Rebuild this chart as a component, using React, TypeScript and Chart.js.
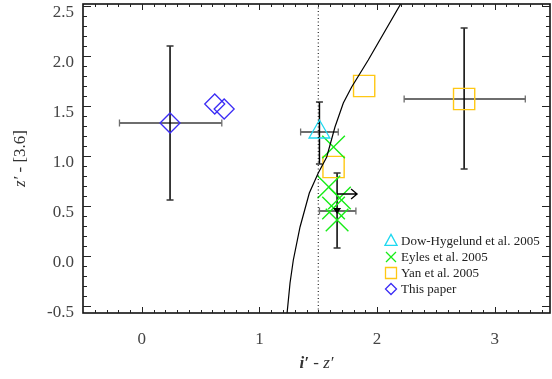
import React, { useEffect, useRef } from 'react';
import { Chart, registerables } from 'chart.js';
Chart.register(...registerables);

// ---- axis ranges & ticks ----
const X_MIN = -0.5;
const X_MAX = 3.47;
const Y_MIN = -0.57;
const Y_MAX = 2.52;
const xTickValues = [0, 1, 2, 3];
const xTickLabels = ['0', '1', '2', '3'];
const yTickValues = [-0.5, 0, 0.5, 1, 1.5, 2, 2.5];
const yTickLabels = ['-0.5', '0.0', '0.5', '1.0', '1.5', '2.0', '2.5'];

// ---- series ----
const seriesNames = ['Dow-Hygelund et al. 2005', 'Eyles et al. 2005', 'Yan et al. 2005', 'This paper'];
const seriesColors = ['#1fd8f0', '#18ec18', '#ffc814', '#3b2cf5'];

const dowX = [1.51];
const dowY = [1.24];
const eylesX = [1.63, 1.59, 1.68, 1.63, 1.66];
const eylesY = [1.09, 0.69, 0.58, 0.48, 0.36];
const yanX = [1.89, 1.63, 2.74];
const yanY = [1.70, 0.89, 1.57];
const thisX = [0.24, 0.62, 0.70];
const thisY = [1.33, 1.52, 1.47];

// ---- error bars ----
const errX = [0.24, 2.74, 1.51, 1.66];
const errY = [1.33, 1.57, 1.24, 0.45];
const errXLo = [-0.19, 2.23, 1.35, 1.51];
const errXHi = [0.68, 3.26, 1.67, 1.82];
const errYLo = [0.56, 0.87, 0.92, 0.08];
const errYHi = [2.10, 2.28, 1.54, 0.83];

// ---- limit arrows ----
const upperLimitX = [1.66];
const upperLimitY = [0.45];
const rightArrowX0 = [1.66];
const rightArrowX1 = [1.83];
const rightArrowY = [0.62];

// ---- model track ----
const curveX = [1.235, 1.26, 1.288, 1.345, 1.424, 1.50, 1.572, 1.642, 1.713, 1.784, 1.925, 2.21];
const curveY = [-0.57, -0.27, -0.04, 0.29, 0.63, 0.83, 0.99, 1.29, 1.53, 1.69, 1.96, 2.54];
const dottedX = 1.5;

const SERIF = '"Liberation Serif", "DejaVu Serif", serif';

const pts = (xs: number[], ys: number[]) => xs.map((x, i) => ({ x, y: ys[i] }));

function drawSymbol(ctx: CanvasRenderingContext2D, kind: number, x: number, y: number, s: number) {
  ctx.beginPath();
  if (kind === 0) {
    ctx.moveTo(x, y - s * 0.6);
    ctx.lineTo(x + s * 0.55, y + s * 0.4);
    ctx.lineTo(x - s * 0.55, y + s * 0.4);
    ctx.closePath();
  } else if (kind === 1) {
    ctx.moveTo(x - s / 2, y - s / 2);
    ctx.lineTo(x + s / 2, y + s / 2);
    ctx.moveTo(x + s / 2, y - s / 2);
    ctx.lineTo(x - s / 2, y + s / 2);
  } else if (kind === 2) {
    ctx.rect(x - s / 2, y - s / 2, s, s);
  } else {
    ctx.moveTo(x, y - s / 2);
    ctx.lineTo(x + s / 2, y);
    ctx.lineTo(x, y + s / 2);
    ctx.lineTo(x - s / 2, y);
    ctx.closePath();
  }
  ctx.stroke();
}

const zeroPad = (s: any) => {
  s.paddingLeft = 0;
  s.paddingRight = 0;
  s.paddingTop = 0;
  s.paddingBottom = 0;
};

const framePlugin = {
  id: 'frame',
  beforeDatasetsDraw(chart: any) {
    const { ctx } = chart;
    const xs = chart.scales.x;
    const ys = chart.scales.y;
    ctx.save();
    for (let i = 0; i < errX.length; i++) {
      const px = xs.getPixelForValue(errX[i]);
      const py = ys.getPixelForValue(errY[i]);
      const x0 = xs.getPixelForValue(errXLo[i]);
      const x1 = xs.getPixelForValue(errXHi[i]);
      const y0 = ys.getPixelForValue(errYLo[i]);
      const y1 = ys.getPixelForValue(errYHi[i]);
      ctx.strokeStyle = '#6e6e6e';
      ctx.lineWidth = 2;
      ctx.beginPath();
      ctx.moveTo(x0, py); ctx.lineTo(x1, py);
      ctx.stroke();
      ctx.lineWidth = 1.3;
      ctx.beginPath();
      ctx.moveTo(x0, py - 3.5); ctx.lineTo(x0, py + 3.5);
      ctx.moveTo(x1, py - 3.5); ctx.lineTo(x1, py + 3.5);
      ctx.stroke();
      ctx.strokeStyle = '#000';
      ctx.lineWidth = 1.5;
      ctx.beginPath();
      ctx.moveTo(px, y0); ctx.lineTo(px, y1);
      ctx.stroke();
      ctx.strokeStyle = '#333';
      ctx.lineWidth = 1.3;
      ctx.beginPath();
      ctx.moveTo(px - 3.5, y0); ctx.lineTo(px + 3.5, y0);
      ctx.moveTo(px - 3.5, y1); ctx.lineTo(px + 3.5, y1);
      ctx.stroke();
    }
    ctx.restore();
  },
  afterDatasetsDraw(chart: any) {
    const { ctx, chartArea: a } = chart;
    const xs = chart.scales.x;
    const ys = chart.scales.y;
    ctx.save();
    ctx.strokeStyle = '#000';
    ctx.fillStyle = '#000';
    ctx.lineWidth = 1.3;
    for (let i = 0; i < rightArrowX0.length; i++) {
      const x0 = xs.getPixelForValue(rightArrowX0[i]);
      const x1 = xs.getPixelForValue(rightArrowX1[i]);
      const y = ys.getPixelForValue(rightArrowY[i]);
      ctx.beginPath();
      ctx.moveTo(x0, y); ctx.lineTo(x1, y);
      ctx.moveTo(x1 - 6, y - 5); ctx.lineTo(x1, y); ctx.lineTo(x1 - 6, y + 5);
      ctx.stroke();
    }
    for (let i = 0; i < upperLimitX.length; i++) {
      const x = xs.getPixelForValue(upperLimitX[i]);
      const y = ys.getPixelForValue(upperLimitY[i]);
      ctx.beginPath();
      ctx.moveTo(x - 4, y - 3); ctx.lineTo(x + 4, y - 3); ctx.lineTo(x, y + 3);
      ctx.closePath();
      ctx.fill();
    }
    ctx.strokeStyle = '#111';
    ctx.lineWidth = 1.6;
    ctx.strokeRect(a.left, a.top, a.right - a.left, a.bottom - a.top);
    ctx.lineWidth = 1;
    ctx.strokeStyle = '#222';
    ctx.beginPath();
    for (let k = -4; k <= 34; k++) {
      const v = k / 10;
      const px = Math.round(xs.getPixelForValue(v)) + 0.5;
      const len = k % 10 === 0 ? 6 : 3;
      ctx.moveTo(px, a.bottom); ctx.lineTo(px, a.bottom - len);
      ctx.moveTo(px, a.top); ctx.lineTo(px, a.top + len);
    }
    for (let k = -5; k <= 25; k++) {
      const v = k / 10;
      const py = Math.round(ys.getPixelForValue(v)) + 0.5;
      const len = k % 5 === 0 ? 8 : 4;
      ctx.moveTo(a.left, py); ctx.lineTo(a.left + len, py);
      ctx.moveTo(a.right, py); ctx.lineTo(a.right - len, py);
    }
    ctx.stroke();

    const lx = 391, tx = 401;
    const rows = [241, 257, 273, 289];
    ctx.font = `13px ${SERIF}`;
    ctx.textBaseline = 'middle';
    ctx.textAlign = 'left';
    for (let i = 0; i < seriesNames.length; i++) {
      ctx.strokeStyle = seriesColors[i];
      ctx.lineWidth = 1.3;
      drawSymbol(ctx, i, lx, rows[i], i === 1 ? 10 : 11);
      ctx.fillStyle = '#222';
      ctx.fillText(seriesNames[i], tx, rows[i] + 1);
    }

    ctx.fillStyle = '#333';
    ctx.textBaseline = 'middle';
    const fs = 17;
    const parts1: [string, string][] = [
      ['i\u2032', `italic bold ${fs}px ${SERIF}`],
      [' - ', `${fs}px ${SERIF}`],
      ['z\u2032', `italic ${fs}px ${SERIF}`],
    ];
    let total = 0;
    for (const [t, f] of parts1) { ctx.font = f; total += ctx.measureText(t).width; }
    let cx = (a.left + a.right) / 2 - total / 2;
    for (const [t, f] of parts1) { ctx.font = f; ctx.fillText(t, cx, 364); cx += ctx.measureText(t).width; }

    const parts2: [string, string][] = [
      ['z\u2032', `italic ${fs}px ${SERIF}`],
      [' - [3.6]', `${fs}px ${SERIF}`],
    ];
    total = 0;
    for (const [t, f] of parts2) { ctx.font = f; total += ctx.measureText(t).width; }
    ctx.translate(21, (a.top + a.bottom) / 2);
    ctx.rotate(-Math.PI / 2);
    cx = -total / 2;
    for (const [t, f] of parts2) { ctx.font = f; ctx.fillText(t, cx, 0); cx += ctx.measureText(t).width; }
    ctx.restore();
  },
};

export default function App() {
  const ref = useRef<HTMLCanvasElement>(null);
  useEffect(() => {
    if (!ref.current) return;
    const chart = new Chart(ref.current, {
      type: 'scatter',
      data: {
        datasets: [
          {
            label: 'track',
            data: pts(curveX, curveY),
            showLine: true,
            borderColor: '#000',
            borderWidth: 1.2,
            pointRadius: 0,
          },
          {
            label: 'dotted',
            data: [{ x: dottedX, y: Y_MIN }, { x: dottedX, y: Y_MAX }],
            showLine: true,
            borderColor: '#000',
            borderWidth: 1,
            borderDash: [1, 2.5],
            pointRadius: 0,
          },
          {
            label: seriesNames[0],
            data: pts(dowX, dowY),
            pointStyle: 'triangle',
            pointRadius: 12,
            borderColor: seriesColors[0],
            backgroundColor: 'transparent',
            pointBorderWidth: 1.3,
          },
          {
            label: seriesNames[1],
            data: pts(eylesX, eylesY),
            pointStyle: 'crossRot',
            pointRadius: 16,
            borderColor: seriesColors[1],
            backgroundColor: 'transparent',
            pointBorderWidth: 1.4,
          },
          {
            label: seriesNames[2],
            data: pts(yanX, yanY),
            pointStyle: 'rect',
            pointRadius: 15,
            borderColor: seriesColors[2],
            backgroundColor: 'transparent',
            pointBorderWidth: 1.4,
          },
          {
            label: seriesNames[3],
            data: pts(thisX, thisY),
            pointStyle: 'rectRot',
            pointRadius: 10,
            borderColor: seriesColors[3],
            backgroundColor: 'transparent',
            pointBorderWidth: 1.3,
          },
        ],
      },
      options: {
        responsive: false,
        animation: false,
        events: [],
        layout: { autoPadding: false, padding: { top: 4, right: 2, left: 0, bottom: 0 } },
        plugins: { legend: { display: false }, tooltip: { enabled: false } },
        scales: {
          x: {
            type: 'linear',
            min: X_MIN,
            max: X_MAX,
            grid: { display: false, drawTicks: false },
            border: { display: false },
            afterBuildTicks: (s: any) => { s.ticks = xTickValues.map((v) => ({ value: v })); },
            afterFit: (s: any) => { s.height = 66; zeroPad(s); },
            ticks: {
              autoSkip: false,
              maxRotation: 0,
              padding: 16,
              color: '#444',
              font: { family: SERIF, size: 17 },
              callback: (_v: any, i: number) => xTickLabels[i],
            },
          },
          y: {
            type: 'linear',
            min: Y_MIN,
            max: Y_MAX,
            grid: { display: false, drawTicks: false },
            border: { display: false },
            afterBuildTicks: (s: any) => { s.ticks = yTickValues.map((v) => ({ value: v })); },
            afterFit: (s: any) => { s.width = 83; zeroPad(s); },
            ticks: {
              autoSkip: false,
              padding: 9,
              labelOffset: 7,
              color: '#444',
              font: { family: SERIF, size: 17 },
              callback: (_v: any, i: number) => yTickLabels[i],
            },
          },
        },
      },
      plugins: [framePlugin],
    });
    return () => chart.destroy();
  }, []);
  return (
    <div style={{ position: 'absolute', left: 0, top: 0, width: 552, height: 379, background: '#fff' }}>
      <canvas ref={ref} width={552} height={379} style={{ display: 'block' }} />
    </div>
  );
}
